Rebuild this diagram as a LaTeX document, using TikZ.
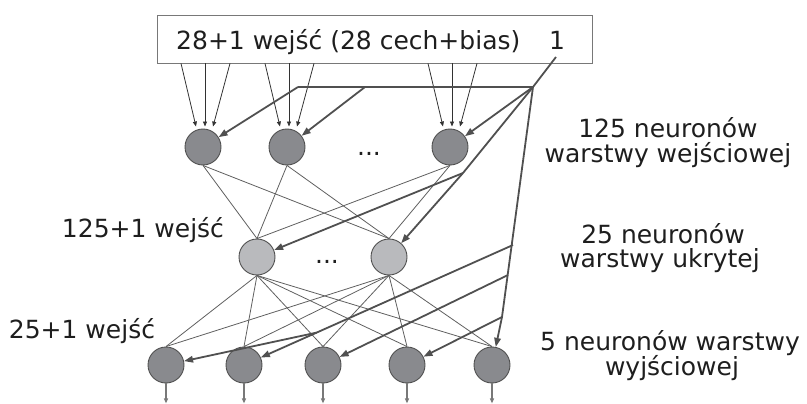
\documentclass[tikz,border=0pt]{standalone}
\usepackage{fontspec}
\setmainfont{DejaVu Sans}
\usetikzlibrary{arrows.meta,calc,backgrounds}

\definecolor{darkfill}{RGB}{137,138,142}
\definecolor{lightfill}{RGB}{185,186,189}
\definecolor{ringc}{RGB}{80,80,80}
\definecolor{wirec}{RGB}{95,95,95}
\definecolor{biasc}{RGB}{80,80,80}
\definecolor{feedc}{RGB}{50,50,50}
\definecolor{boxc}{RGB}{120,120,120}
\definecolor{outc}{RGB}{120,120,120}
\definecolor{txtc}{RGB}{30,30,30}

\begin{document}
\begin{tikzpicture}[x=1pt,y=-1pt,
  font=\fontsize{25}{25}\selectfont, text=txtc,
  neuron/.style={circle, draw=ringc, line width=0.9pt, minimum size=36pt, inner sep=0pt},
  dark/.style={neuron, fill=darkfill},
  light/.style={neuron, fill=lightfill},
  lbl/.style={anchor=base, inner sep=0pt},
  feed/.style={draw=feedc, line width=0.8pt, -{Triangle[length=5pt,width=4pt]}},
  wire/.style={draw=wirec, line width=0.8pt},
  biasline/.style={draw=biasc, line width=1.8pt},
  biasarrow/.style={biasline, -{Triangle[length=9pt,width=6.5pt]}},
  outarrow/.style={draw=outc, line width=1.2pt, -{Triangle[length=5pt,width=4pt]}}
]
\useasboundingbox (0,0) rectangle (807,404);

% input box
\node[draw=boxc, line width=0.8pt, minimum width=435pt, minimum height=48pt, inner sep=0pt] (inbox) at (374.5,39) {};
\node[lbl, anchor=base west] (intext) at (176,50) {28+1 wejść (28 cech+bias)};
\node[lbl, anchor=base west] (one) at (549,50) {1};

% input layer
\node[dark] (t1) at (203,147) {};
\node[dark] (t2) at (287,147) {};
\node[dark] (t3) at (450,147) {};
\node[lbl] (tdots) at (369,155) {...};

% hidden layer
\node[light] (h1) at (257,257) {};
\node[light] (h2) at (389,257) {};
\node[lbl] (hdots) at (327,263) {...};

% output layer
\node[dark] (o1) at (166,365) {};
\node[dark] (o2) at (244,365) {};
\node[dark] (o3) at (323,365) {};
\node[dark] (o4) at (407,365) {};
\node[dark] (o5) at (492,365) {};

% labels
\node[lbl] (lblA1) at (668,138) {125 neuronów};
\node[lbl] (lblA2) at (668,162) {warstwy wejściowej};
\node[lbl] (lblB1) at (663,243) {25 neuronów};
\node[lbl] (lblB2) at (660,267) {warstwy ukrytej};
\node[lbl] (lblC1) at (670,350) {5 neuronów warstwy};
\node[lbl] (lblC2) at (672,375) {wyjściowej};
\node[lbl] (hin) at (143,237) {125+1 wejść};
\node[lbl] (oin) at (82,338) {25+1 wejść};

% full connections between layers
\begin{scope}[on background layer]
  \foreach \a in {t1,t2,t3}
    \foreach \b in {h1,h2}
      \draw[wire] (\a.south) -- (\b.north);
  \foreach \a in {h1,h2}
    \foreach \b in {o1,o2,o3,o4,o5}
      \draw[wire] (\a.south) -- (\b.north);
\end{scope}

% feature inputs into the first layer
\foreach \n in {t1,t2,t3} {
  \draw[feed] ($(\n.center |- inbox.south)+(-22,0)$) -- ($(\n.north)+(-7,-2)$);
  \draw[feed] ($(\n.center |- inbox.south)+(2,0)$) -- ($(\n.north)+(2,-2)$);
  \draw[feed] ($(\n.center |- inbox.south)+(27,0)$) -- ($(\n.north)+(10,-2)$);
}

% bias distribution
\coordinate (bstart) at (556,57);
\coordinate (J) at (533,87);
\coordinate (hA) at (298,87);
\coordinate (hB) at (365,87);
\coordinate (K) at (463,173);
\coordinate (B1) at (513,245);
\coordinate (B2) at (508,275);
\coordinate (B3) at (502,317);
\coordinate (C) at ($(B1)!0.73!(o2)$);

\draw[biasline] (bstart) -- (J) -- (hA);
\draw[biasarrow] (hA) -- (t1);
\draw[biasarrow] (hB) -- (t2);
\draw[biasarrow] (J) -- (t3);
\draw[biasline] (J) -- (K);
\draw[biasarrow] (K) -- (h1);
\draw[biasarrow] (K) -- (h2);
\draw[biasline] (J) -- (B3);
\draw[biasarrow] (B3) -- (o5);
\draw[biasarrow] (B1) -- (o2);
\draw[biasarrow] (C) -- (o1);
\draw[biasarrow] (B2) -- (o3);
\draw[biasarrow] (B3) -- (o4);

% outputs
\foreach \n in {o1,o2,o3,o4,o5}
  \draw[outarrow] (\n.south) -- ($(\n.south)+(0,20)$);
\end{tikzpicture}
\end{document}
